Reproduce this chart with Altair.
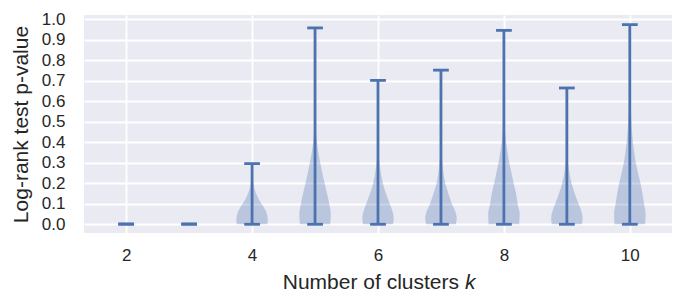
import altair as alt
import pandas as pd

# ---- data ----
ks = [2, 3, 4, 5, 6, 7, 8, 9, 10]
p_min = [0, 0, 0, 0, 0, 0, 0, 0, 0]
p_max = [0.002, 0.002, 0.296, 0.958, 0.702, 0.752, 0.946, 0.665, 0.974]

# violin density profiles (relative width, 1 = widest) at given p-values
prof_y_4 = [0, 0.02, 0.04, 0.06, 0.08, 0.10, 0.12, 0.14, 0.16, 0.18, 0.20, 0.23, 0.26, 0.296]
prof_w_4 = [0.96, 1.0, 0.97, 0.9, 0.77, 0.6, 0.44, 0.31, 0.21, 0.13, 0.08, 0.04, 0.02, 0.01]
prof_y_5 = [0, 0.05, 0.1, 0.15, 0.2, 0.25, 0.3, 0.35, 0.4, 0.45, 0.5, 0.6, 0.7, 0.8, 0.958]
prof_w_5 = [0.96, 1.0, 0.9, 0.76, 0.61, 0.46, 0.33, 0.21, 0.12, 0.06, 0.03, 0.012, 0.006, 0.004, 0.002]
prof_y_6 = [0, 0.03, 0.06, 0.1, 0.15, 0.2, 0.25, 0.3, 0.35, 0.4, 0.5, 0.6, 0.702]
prof_w_6 = [0.95, 1.0, 0.93, 0.75, 0.5, 0.31, 0.18, 0.09, 0.045, 0.02, 0.008, 0.004, 0.002]
prof_y_7 = [0, 0.03, 0.06, 0.1, 0.15, 0.2, 0.25, 0.3, 0.35, 0.4, 0.5, 0.6, 0.7, 0.752]
prof_w_7 = [0.95, 1.0, 0.92, 0.69, 0.47, 0.28, 0.16, 0.09, 0.05, 0.025, 0.01, 0.005, 0.003, 0.002]
prof_y_8 = [0, 0.05, 0.1, 0.15, 0.2, 0.25, 0.3, 0.35, 0.4, 0.45, 0.5, 0.6, 0.7, 0.8, 0.946]
prof_w_8 = [0.97, 1.0, 0.87, 0.77, 0.62, 0.48, 0.34, 0.23, 0.14, 0.08, 0.04, 0.015, 0.007, 0.004, 0.002]
prof_y_9 = [0, 0.03, 0.06, 0.1, 0.15, 0.2, 0.25, 0.3, 0.35, 0.4, 0.5, 0.665]
prof_w_9 = [0.95, 1.0, 0.93, 0.74, 0.5, 0.3, 0.16, 0.08, 0.035, 0.015, 0.006, 0.002]
prof_y_10 = [0, 0.05, 0.1, 0.15, 0.2, 0.25, 0.3, 0.35, 0.4, 0.45, 0.5, 0.55, 0.6, 0.7, 0.8, 0.974]
prof_w_10 = [0.97, 1.0, 0.9, 0.8, 0.68, 0.52, 0.38, 0.28, 0.2, 0.14, 0.1, 0.07, 0.05, 0.02, 0.01, 0.002]

profiles = {
    4: (prof_y_4, prof_w_4), 5: (prof_y_5, prof_w_5), 6: (prof_y_6, prof_w_6),
    7: (prof_y_7, prof_w_7), 8: (prof_y_8, prof_w_8), 9: (prof_y_9, prof_w_9),
    10: (prof_y_10, prof_w_10),
}

x_ticks = [2, 4, 6, 8, 10]
y_ticks = [0.0, 0.1, 0.2, 0.3, 0.4, 0.5, 0.6, 0.7, 0.8, 0.9, 1.0]

BLUE = "#4C72B0"
HALF = 0.25   # half of violin width (widths=0.5)
CAP = 0.125   # half of cap length

rows = []
for k, (ys, ws) in profiles.items():
    for y, w in zip(ys, ws):
        rows.append({"k": k, "pv": y, "lo": k - HALF * w, "hi": k + HALF * w})
vdf = pd.DataFrame(rows)

sdf = pd.DataFrame({"k": ks, "pmin": p_min, "pmax": p_max})
sdf["c0"] = sdf["k"] - CAP
sdf["c1"] = sdf["k"] + CAP

xs = alt.Scale(domain=[1.33, 10.67], nice=False, zero=False)
ysc = alt.Scale(domain=[-0.0425, 1.021], nice=False, zero=False)

x_axis = alt.Axis(values=x_ticks, format="d", title=None, labelFontSize=17,
                  labelPadding=14, ticks=False, domain=False, grid=True,
                  labelOverlap=False)
y_axis = alt.Axis(values=y_ticks, format=".1f", title="Log-rank test p-value",
                  labelFontSize=17, labelPadding=19, ticks=False, domain=False,
                  grid=True, titleFontSize=21, titleFontWeight="normal",
                  titleX=-57, titleBaseline="alphabetic", labelOverlap=False)

violins = alt.Chart(vdf).mark_area(
    orient="horizontal", interpolate="monotone", color=BLUE, opacity=0.3
).encode(
    y=alt.Y("pv:Q", scale=ysc, axis=y_axis),
    x=alt.X("lo:Q", scale=xs, axis=x_axis, stack=None),
    x2="hi:Q",
    detail="k:N",
)

stems = alt.Chart(sdf).mark_rule(color=BLUE, strokeWidth=2.8).encode(
    x=alt.X("k:Q", scale=xs, axis=x_axis),
    y=alt.Y("pmin:Q", scale=ysc, axis=y_axis), y2="pmax:Q"
)
caps_min = alt.Chart(sdf).mark_rule(color=BLUE, strokeWidth=2.8).encode(
    x=alt.X("c0:Q", scale=xs, axis=x_axis), x2="c1:Q",
    y=alt.Y("pmin:Q", scale=ysc, axis=y_axis)
)
caps_max = alt.Chart(sdf).mark_rule(color=BLUE, strokeWidth=2.8).encode(
    x=alt.X("c0:Q", scale=xs, axis=x_axis), x2="c1:Q",
    y=alt.Y("pmax:Q", scale=ysc, axis=y_axis)
)

t1 = alt.Chart(pd.DataFrame({"t": ["Number of clusters"]})).mark_text(
    align="right", baseline="alphabetic", fontSize=21, color="#262626"
).encode(text="t:N", x=alt.value(375), y=alt.value(274))
t2 = alt.Chart(pd.DataFrame({"t": ["k"]})).mark_text(
    align="left", baseline="alphabetic", fontSize=21, fontStyle="italic", color="#262626"
).encode(text="t:N", x=alt.value(381), y=alt.value(274))

chart = alt.layer(violins, stems, caps_min, caps_max, t1, t2).properties(
    width=588, height=218,
    padding={"left": 76, "top": 7, "right": 5, "bottom": 70},
    autosize=alt.AutoSizeParams(type="none"),
).configure_view(
    stroke=None, fill="#EAEAF2"
).configure_axis(
    gridColor="white", gridWidth=1.8, gridOpacity=1,
    labelColor="#262626", titleColor="#262626",
    labelFont="Liberation Sans", titleFont="Liberation Sans",
    labelFontSize=17,
).configure_text(font="Liberation Sans")

chart.save("out.html", embed_options={"renderer": "svg", "actions": False})
